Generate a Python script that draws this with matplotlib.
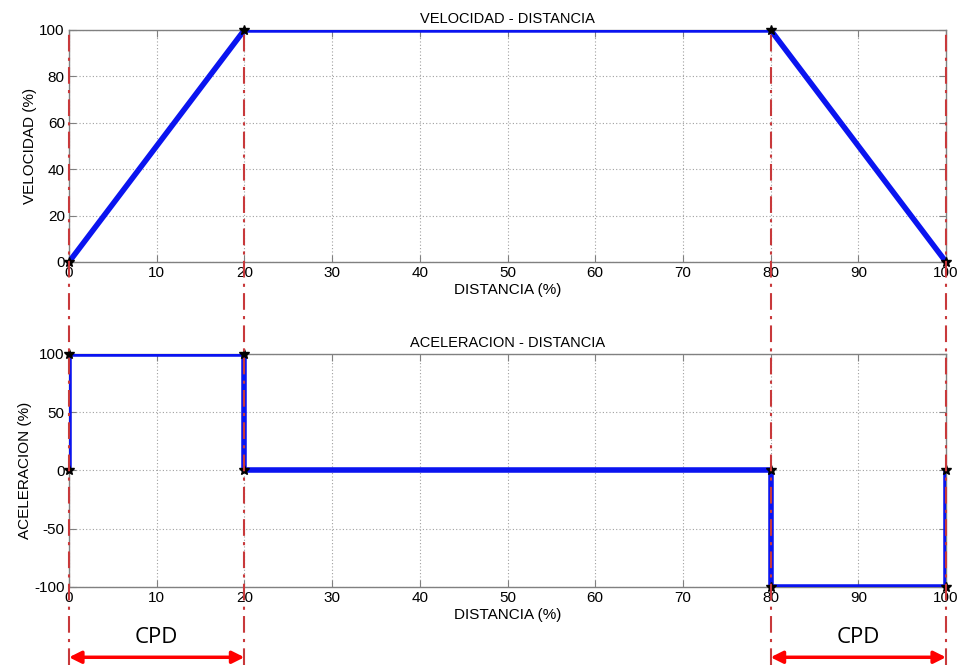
import matplotlib
matplotlib.use("Agg")
import matplotlib.pyplot as plt
from matplotlib.lines import Line2D
from matplotlib.transforms import blended_transform_factory

plt.rcParams["font.family"] = ["Liberation Sans", "DejaVu Sans"]
plt.rcParams["axes.unicode_minus"] = False

# perfil de velocidad y aceleracion (en % de la distancia)
dist_v = [0, 20, 80, 100]
vel = [0, 100, 100, 0]
dist_a = [0, 0, 20, 20, 80, 80, 100, 100]
acc = [0, 100, 100, 0, 0, -100, -100, 0]
limites = [0, 20, 80, 100]          # cambios de tramo
tramos_cpd = [(0, 20), (80, 100)]
xticks = [0, 10, 20, 30, 40, 50, 60, 70, 80, 90, 100]

BLUE = "#0a14f0"
RED_LINE = "#c8393b"
GREY = "#808080"

fig = plt.figure(figsize=(9.61, 6.70), dpi=100)
ax1 = fig.add_axes([0.0718, 0.609, 0.9126, 0.3463])
ax2 = fig.add_axes([0.0718, 0.1239, 0.9126, 0.3478])


def estilo(ax):
    ax.set_xlim(0, 100)
    ax.set_xticks(xticks)
    ax.grid(True, ls=(0, (1, 2)), color="#a0a0a0", lw=0.8)
    ax.tick_params(direction="in", top=True, right=True, length=5,
                   color=GREY, labelsize=11, pad=3)
    for s in ax.spines.values():
        s.set_color(GREY)
        s.set_linewidth(1.0)
    ax.set_xlabel("DISTANCIA (%)", fontsize=11, labelpad=2)


ax1.plot(dist_v, vel, color=BLUE, lw=4, solid_capstyle="butt", zorder=3)
ax1.plot(dist_v, vel, ls="none", marker="*", ms=7, color="black", zorder=4,
         clip_on=False)
ax1.set_ylim(0, 100)
ax1.set_yticks([0, 20, 40, 60, 80, 100])
ax1.set_ylabel("VELOCIDAD (%)", fontsize=11, labelpad=2)
ax1.set_title("VELOCIDAD - DISTANCIA", fontsize=10.5, pad=5)
estilo(ax1)

ax2.plot(dist_a, acc, color=BLUE, lw=4, solid_capstyle="butt", zorder=3)
ax2.plot(dist_a, acc, ls="none", marker="*", ms=7, color="black", zorder=4,
         clip_on=False)
ax2.set_ylim(-100, 100)
ax2.set_yticks([-100, -50, 0, 50, 100])
ax2.set_ylabel("ACELERACION (%)", fontsize=11, labelpad=2)
ax2.set_title("ACELERACION - DISTANCIA", fontsize=10.5, pad=5)
estilo(ax2)

# lineas verticales de los limites de tramo, a lo alto de toda la figura
trans = blended_transform_factory(ax2.transData, fig.transFigure)
for x in limites:
    fig.add_artist(Line2D([x, x], [0.007, 0.955], transform=trans,
                          color=RED_LINE, lw=1.5, ls=(0, (8, 3, 1.5, 3)),
                          zorder=10))

# flechas CPD
for a, b in tramos_cpd:
    ax2.annotate("", xy=(a, 0.019), xytext=(b, 0.019),
                 xycoords=("data", "figure fraction"),
                 textcoords=("data", "figure fraction"),
                 arrowprops=dict(arrowstyle="<|-|>", color="red", lw=2.5,
                                 mutation_scale=18, shrinkA=0, shrinkB=0),
                 annotation_clip=False)
    ax2.annotate("CPD", xy=((a + b) / 2, 0.048),
                 xycoords=("data", "figure fraction"),
                 ha="center", va="center", fontsize=16, family="Open Sans",
                 annotation_clip=False)

fig.savefig("out.png", dpi=100)
